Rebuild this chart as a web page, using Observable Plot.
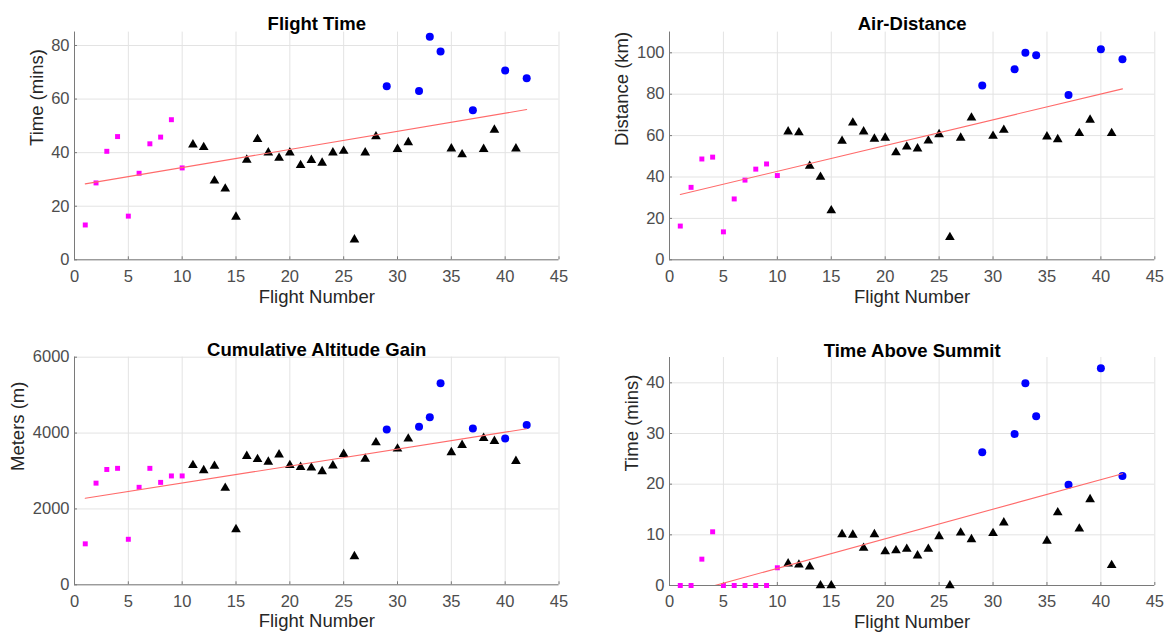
<!DOCTYPE html>
<html>
<head>
<meta charset="utf-8">
<script src="https://cdn.jsdelivr.net/npm/d3@7"></script>
<script src="https://cdn.jsdelivr.net/npm/@observablehq/plot@0.6"></script>
<style>
  html, body { margin: 0; padding: 0; background: #fff; }
  #wrap { position: relative; width: 1166px; height: 637px; overflow: hidden; background: #fff; }
  .panel { position: absolute; }
</style>
</head>
<body>
<div id="wrap">
  <div class="panel" id="p1" style="left:0px;top:0px"></div>
  <div class="panel" id="p2" style="left:583px;top:0px"></div>
  <div class="panel" id="p3" style="left:0px;top:320px"></div>
  <div class="panel" id="p4" style="left:583px;top:320px"></div>
</div>
<script>
// ---- Data ----
const flights = [1,2,3,4,5,6,7,8,9,10,11,12,13,14,15,16,17,18,19,20,21,22,23,24,25,26,27,28,29,30,31,32,33,34,35,36,37,38,39,40,41,42];
const magentaFlights = [1,2,3,4,5,6,7,8,9,10];
const blueFlights = [29,32,33,34,37,40,42];

const flightTime = [13.0,28.7,40.5,46.0,16.3,32.3,43.3,45.8,52.3,34.3,
  43.0,42.0,29.5,26.5,16.0,37.3,45.0,40.0,38.0,40.0,
  35.3,37.2,36.2,40.0,40.6,7.5,40.0,46.0,64.8,41.3,
  43.8,63.0,83.3,77.8,41.5,39.3,55.8,41.3,48.5,70.7,
  41.5,67.8];
const airDistance = [16.3,35.0,48.7,49.6,13.5,29.4,38.5,43.8,46.3,40.7,
  61.9,61.5,45.3,40.0,23.8,57.4,66.2,61.9,58.4,58.9,
  51.8,54.6,53.7,57.5,60.6,10.9,58.9,68.6,84.2,59.8,
  62.7,92.0,100.0,98.8,59.5,58.2,79.6,61.1,67.6,101.7,
  61.1,96.9];
const altitudeGain = [1080,2680,3040,3070,1200,2570,3070,2700,2870,2870,
  3150,3015,3130,2550,1460,3390,3310,3240,3430,3150,
  3100,3085,2990,3140,3445,750,3320,3750,4095,3585,
  3850,4165,4420,5315,3490,3680,4120,3865,3785,3860,
  3260,4210];
const timeAboveSummit = [0,0,5.2,10.6,0,0,0,0,0,3.5,
  4.3,4.1,3.7,0,0,10.1,10.0,7.4,10.1,6.7,
  6.9,7.2,5.9,7.2,9.7,0,10.4,9.1,26.3,10.3,
  12.4,29.9,39.9,33.4,8.8,14.4,19.9,11.2,17.0,42.9,
  4.0,21.6];

const xTicks = [0,5,10,15,20,25,30,35,40,45];

const panels = [
  {id:"p1", title:"Flight Time", ylabel:"Time (mins)", values:flightTime, ymax:85, yTicks:[0,20,40,60,80],
   height:320, mt:31.6, mb:60.7, ml:74, mr:24.5, ylabOff:37.5, titleDy:-15, xlabDy:43},
  {id:"p2", title:"Air-Distance", ylabel:"Distance (km)", values:airDistance, ymax:110, yTicks:[0,20,40,60,80,100],
   height:320, mt:31.6, mb:60.7, ml:86, mr:11.7, ylabOff:47, titleDy:-15, xlabDy:43},
  {id:"p3", title:"Cumulative Altitude Gain", ylabel:"Meters (m)", values:altitudeGain, ymax:6000, yTicks:[0,2000,4000,6000],
   height:317, mt:36.7, mb:52.7, ml:74, mr:24.5, ylabOff:56, titleDy:-14, xlabDy:42},
  {id:"p4", title:"Time Above Summit", ylabel:"Time (mins)", values:timeAboveSummit, ymax:45, yTicks:[0,10,20,30,40],
   height:317, mt:37, mb:52, ml:86, mr:11.7, ylabOff:37.5, titleDy:-14, xlabDy:42}
];

const font = "'Liberation Sans', Arial, Helvetica, sans-serif";
const axisGray = "#7a7a7a";
const gridGray = "#e3e3e3";

function group(f) {
  if (magentaFlights.includes(f)) return "m";
  if (blueFlights.includes(f)) return "b";
  return "k";
}

for (const p of panels) {
  const rows = flights.map((f, i) => ({flight: f, value: p.values[i], g: group(f)}));
  const mag = rows.filter(d => d.g === "m");
  const blu = rows.filter(d => d.g === "b");
  const blk = rows.filter(d => d.g === "k");
  const chart = Plot.plot({
    width: 583,
    height: p.height,
    marginTop: p.mt,
    marginBottom: p.mb,
    marginLeft: p.ml,
    marginRight: p.mr,
    style: {fontFamily: font, fontSize: "16.5px", color: "#4d4d4d", background: "#fff", overflow: "visible"},
    x: {domain: [0, 45], axis: null},
    y: {domain: [0, p.ymax], axis: null},
    marks: [
      Plot.gridX(xTicks, {stroke: gridGray, strokeOpacity: 1}),
      Plot.gridY(p.yTicks, {stroke: gridGray, strokeOpacity: 1}),
      Plot.axisX({ticks: xTicks, tickSize: -3, tickPadding: 13, stroke: axisGray, fill: "#4d4d4d", fontSize: 16.5, label: null, tickFormat: d3.format("d")}),
      Plot.axisY({ticks: p.yTicks, tickSize: -3, tickPadding: 8, stroke: axisGray, fill: "#4d4d4d", fontSize: 16.5, label: null, tickFormat: d3.format("d")}),
      Plot.ruleX([0], {stroke: axisGray}),
      Plot.ruleY([0], {stroke: axisGray}),
      Plot.dot(mag, {x: "flight", y: "value", symbol: "square", r: 2.8, fill: "#ff00ff", stroke: null}),
      Plot.dot(blk, {x: "flight", y: "value", symbol: "triangle", r: 3.6, fill: "#000000", stroke: null}),
      Plot.dot(blu, {x: "flight", y: "value", symbol: "circle", r: 4, fill: "#0000ff", stroke: null}),
      Plot.linearRegressionY(rows, {x: "flight", y: "value", stroke: "#ff6b6b", strokeWidth: 1.1, ci: 0, clip: true}),
      Plot.text([p.title], {frameAnchor: "top", dy: p.titleDy, fontSize: 18.5, fontWeight: "bold", fill: "#000"}),
      Plot.text([p.ylabel], {frameAnchor: "left", dx: -p.ylabOff, rotate: -90, fontSize: 18.5, fill: "#262626"}),
      Plot.text(["Flight Number"], {frameAnchor: "bottom", dy: p.xlabDy, fontSize: 18.5, fill: "#262626"})
    ]
  });
  document.getElementById(p.id).appendChild(chart);
}
</script>
</body>
</html>
